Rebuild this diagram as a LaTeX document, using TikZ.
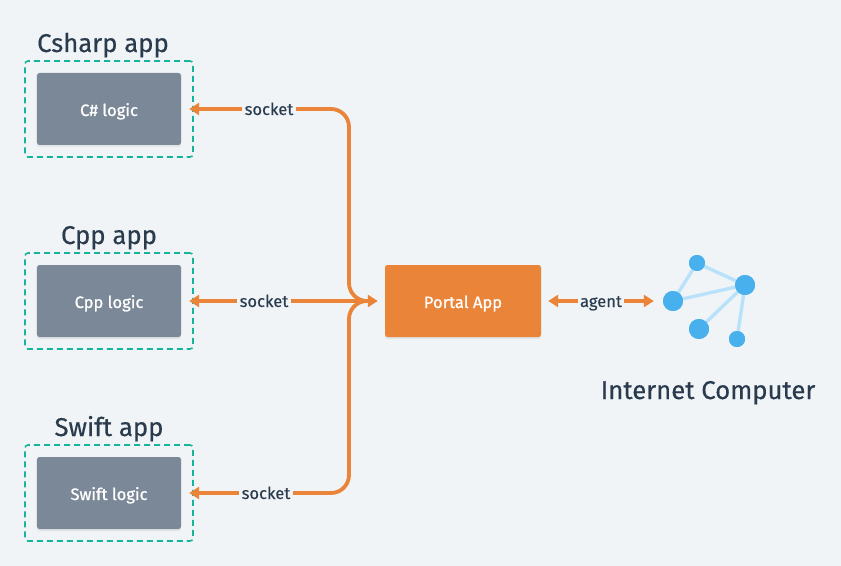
\documentclass[tikz,border=0pt]{standalone}
\usepackage{fontspec}
\setmainfont{Fira Sans}
\newfontfamily\medfont[FakeBold=0.4]{Fira Sans}
\newfontfamily\boxfont[FakeBold=0.9]{Fira Sans}
\usetikzlibrary{arrows.meta,shadows,calc}
\definecolor{bgc}{HTML}{F0F4F7}
\definecolor{ink}{HTML}{2A3B4D}
\definecolor{org}{HTML}{E98438}
\definecolor{slate}{HTML}{7B8897}
\definecolor{teal2}{HTML}{17B39B}
\definecolor{dot}{HTML}{48B0EC}
\definecolor{lnk}{HTML}{B8E2FA}
\tikzset{
 x=1bp,y=-1bp,
 group/.style={draw=teal2,line width=1.6bp,dash pattern=on 6bp off 4bp,rounded corners=3bp,minimum width=168bp,minimum height=96bp},
 logic/.style={fill=slate,text=white,rounded corners=2.5bp,minimum width=144bp,minimum height=72bp,text height=14bp,text depth=0bp,font=\boxfont\fontsize{16.6}{18}\selectfont,drop shadow={opacity=.12,shadow xshift=0bp,shadow yshift=-2bp}},
 portal/.style={logic,fill=org,minimum width=156bp},
 title/.style={text=ink,font=\medfont\fontsize{25.8}{28}\selectfont,inner sep=0pt,anchor=base},
 lbl/.style={text=ink,fill=bgc,font=\medfont\fontsize{16.6}{18}\selectfont,inner xsep=2.5bp,inner ysep=4bp,text height=12bp,text depth=0bp},
 wire/.style={draw=org,line width=3.8bp,rounded corners=18bp,line cap=round},
 tip/.style={-{Triangle[length=10bp,width=12bp]}},
 tips/.style={{Triangle[length=10bp,width=12bp]}-{Triangle[length=10bp,width=12bp]}},
 big/.style={circle,fill=dot,minimum size=20bp,inner sep=0pt},
 small/.style={circle,fill=dot,minimum size=16bp,inner sep=0pt},
 edge2/.style={draw=lnk,line width=3.4bp},
}
\begin{document}
\begin{tikzpicture}
\useasboundingbox[fill=bgc] (0,0) rectangle (841,566);
% groups
\node[group] (gc) at (109,109) {};
\node[group] (gp) at (109,301) {};
\node[group] (gs) at (109,493) {};
\node[logic] (cs) at (109,109) {C\# logic};
\node[logic] (cpp) at (109,301) {Cpp logic};
\node[logic] (sw) at (109,493) {Swift logic};
\node[portal] (pa) at (463,301) {Portal App};
\node[title] (tc) at (103,52) {Csharp app};
\node[title] (tp) at (109,244) {Cpp app};
\node[title] (ts) at (109,436) {Swift app};
\node[title] (ti) at (708,399) {Internet Computer};
\coordinate (j) at (349,301);
% wires
\draw[wire,{Triangle[length=10bp,width=12bp]}-,shorten <=8bp,shorten >=12bp] (cs) -- (cs -| j) -- (j) -- (pa);
\draw[wire,{Triangle[length=10bp,width=12bp]}-,shorten <=8bp,shorten >=12bp] (sw) -- (sw -| j) -- (j) -- (pa);
\draw[wire,tips,shorten <=8bp,shorten >=7bp] (cpp) -- (pa);
% network
\node[big] (n1) at (673,301) {};
\node[small] (n2) at (697,263) {};
\node[big] (n3) at (745,285) {};
\node[big] (n4) at (699,329) {};
\node[small] (n5) at (737,339) {};
\draw[edge2] (n1) -- (n2);
\draw[edge2] (n2) -- (n3);
\draw[edge2] (n1) -- (n3);
\draw[edge2] (n3) -- (n4);
\draw[edge2] (n3) -- (n5);
\node[big] at (n1) {};
\node[small] at (n2) {};
\node[big] at (n3) {};
\node[big] at (n4) {};
\node[small] at (n5) {};
\draw[wire,tips,shorten <=7bp,shorten >=9bp] (pa) -- (n1);
\node[lbl] (l1) at (269,109) {socket};
\node[lbl] (l2) at (264,301) {socket};
\node[lbl] (l3) at (266,493) {socket};
\node[lbl] (l4) at (601,301) {agent};
\end{tikzpicture}
\end{document}
